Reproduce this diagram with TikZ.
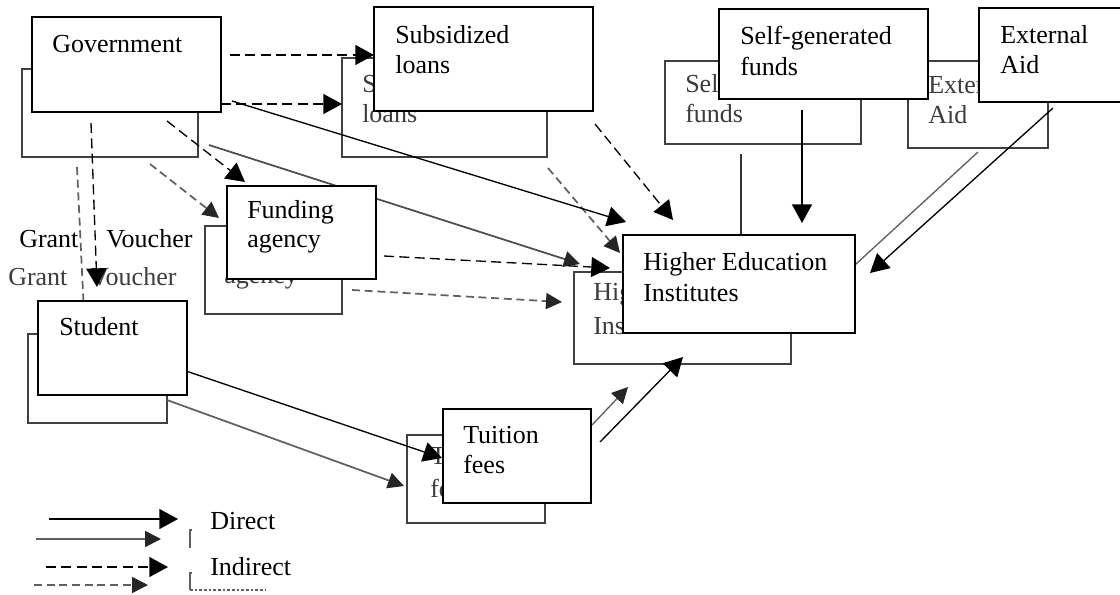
\documentclass[tikz,border=0pt]{standalone}
\usepackage{fontspec}
\setmainfont{Liberation Serif}
\usetikzlibrary{arrows.meta}
\definecolor{bgray}{RGB}{64,64,64}
\definecolor{tgray}{RGB}{60,60,60}
\definecolor{lgray}{RGB}{95,95,95}
\newcommand\dfont{\fontsize{19.5pt}{22pt}\selectfont}
\tikzset{
  fbox/.style={draw=black, line width=1.1pt, fill=white, anchor=north west, inner sep=0pt, outer sep=0pt},
  bbox/.style={draw=bgray, line width=1.5pt, fill=white, anchor=north west, inner sep=0pt, outer sep=0pt},
  ftxt/.style={anchor=base west, inner sep=0pt, font=\dfont},
  btxt/.style={anchor=base west, inner sep=0pt, font=\dfont, text=tgray},
  fsolid/.style={draw=black, line width=1pt, -{Triangle[length=14pt,width=15pt]}},
  fdash/.style={fsolid, dash pattern=on 7.5pt off 4pt},
  bsolid/.style={draw=lgray, line width=1.3pt, -{Triangle[length=12pt,width=12pt,color=black!85]}},
  bdash/.style={bsolid, dash pattern=on 6pt off 3.5pt},
  bmark/.style={draw=lgray, line width=0.8pt}
}
\begin{document}
\begin{tikzpicture}[x=0.75pt, y=-0.75pt]
\useasboundingbox (0,0) rectangle (1120,594);

% ---------- back layer boxes ----------
\node[bbox, minimum width=132pt,    minimum height=66pt]    (gov2)  at (22,69)  {};
\node[bbox, minimum width=153.75pt, minimum height=74.25pt] (subs2) at (342,58) {};
\node[bbox, minimum width=147pt,    minimum height=62.25pt] (self2) at (665,61) {};
\node[bbox, minimum width=105pt,    minimum height=65.25pt] (ext2)  at (908,61) {};
\node[bbox, minimum width=162.75pt, minimum height=69pt]    (hei2)  at (574,272) {};
\node[bbox, minimum width=102.75pt, minimum height=66pt]    (fund2) at (205,226) {};
\node[bbox, minimum width=104.25pt, minimum height=66.75pt] (stud2) at (28,334) {};
\node[bbox, minimum width=103.5pt,  minimum height=66pt]    (tuit2) at (407,435) {};

% ---------- back layer texts (visible parts) ----------
\node[btxt] (subs2a) at (362,92)  {S};
\node[btxt] (subs2b) at (362,122) {loans};
\node[btxt] (self2a) at (685,92)  {Self};
\node[btxt] (self2b) at (685,122) {funds};
\node[btxt] (ext2a)  at (928,93)  {Exter};
\node[btxt] (ext2b)  at (928,123) {Aid};
\node[btxt] (fund2b) at (224,283) {agency};
\node[btxt] (hei2a)  at (593,300) {Hig};
\node[btxt] (hei2b)  at (593,334) {Ins};
\node[btxt] (tuit2a) at (430,464) {T};
\node[btxt] (tuit2b) at (430,497) {fe};
\node[btxt] (grant2) at (8,285)   {Grant};
\node[btxt] (vouch2) at (90,285)  {Voucher};

% ---------- back layer connectors ----------
\coordinate (b1s) at (77,167);   \coordinate (b1e) at (85,334);
\coordinate (b2s) at (150,164);  \coordinate (b2e) at (219,218);
\coordinate (b3s) at (209,145);  \coordinate (b3e) at (580,264);
\coordinate (b4s) at (548,168);  \coordinate (b4e) at (620,253);
\coordinate (b5s) at (352,290);  \coordinate (b5e) at (562,302);
\coordinate (b6s) at (167,400);  \coordinate (b6e) at (404,486);
\coordinate (b7s) at (592,425);  \coordinate (b7e) at (628,387);
\coordinate (b8s) at (741,154);  \coordinate (b8e) at (741,272);
\coordinate (b9s) at (978,152);  \coordinate (b9e) at (795,320);
\draw[bdash] (b1s) -- (b1e);
\draw[bdash] (b2s) -- (b2e);
\draw[bsolid, draw=black!70] (b3s) -- (b3e);
\draw[bdash] (b4s) -- (b4e);
\draw[bdash] (b5s) -- (b5e);
\draw[bsolid] (b6s) -- (b6e);
\draw[bsolid, line width=1pt] (b7s) -- (b7e);
\draw[bsolid, draw=black!80, line width=0.9pt] (b8s) -- (b8e);
\draw[bsolid, line width=1pt] (b9s) -- (b9e);

% ---------- front layer boxes ----------
\node[fbox, minimum width=141.75pt, minimum height=71.25pt] (gov)  at (32,17)  {};
\node[fbox, minimum width=164.25pt, minimum height=78pt]    (subs) at (374,7)  {};
\node[fbox, minimum width=156.75pt, minimum height=67.5pt]  (self) at (719,9)  {};
\node[fbox, minimum width=107pt,    minimum height=70.5pt]  (ext)  at (979,8)  {};
\node[fbox, minimum width=174pt,    minimum height=73.5pt]  (hei)  at (623,235) {};
\node[fbox, minimum width=111.75pt, minimum height=69.75pt] (fund) at (227,186) {};
\node[fbox, minimum width=111.75pt, minimum height=70.5pt]  (stud) at (38,301) {};
\node[fbox, minimum width=111pt,    minimum height=70.5pt]  (tuit) at (443,409) {};

% ---------- front layer texts ----------
\node[ftxt] (gova)  at (52,52)   {Government};
\node[ftxt] (subsa) at (395,43)  {Subsidized};
\node[ftxt] (subsb) at (395,73)  {loans};
\node[ftxt] (selfa) at (740,44)  {Self-generated};
\node[ftxt] (selfb) at (740,75)  {funds};
\node[ftxt] (exta)  at (1000,43) {External};
\node[ftxt] (extb)  at (1000,73) {Aid};
\node[ftxt] (heia)  at (643,270) {Higher Education};
\node[ftxt] (heib)  at (643,301) {Institutes};
\node[ftxt] (funda) at (247,218) {Funding};
\node[ftxt] (fundb) at (247,247) {agency};
\node[ftxt] (studa) at (59,335)  {Student};
\node[ftxt] (tuita) at (463,443) {Tuition};
\node[ftxt] (tuitb) at (463,473) {fees};
\node[ftxt] (grant) at (19,247)  {Grant};
\node[ftxt] (vouch) at (106,247) {Voucher};

% ---------- front layer connectors ----------
\coordinate (f1s) at (230,55);   \coordinate (f1e) at (374,55);
\coordinate (f2s) at (221,104);  \coordinate (f2e) at (342,104);
\coordinate (f3s) at (232,101);  \coordinate (f3e) at (626,222);
\coordinate (f4s) at (167,121);  \coordinate (f4e) at (245,182);
\coordinate (f5s) at (91,123);   \coordinate (f5e) at (97,287);
\coordinate (f6s) at (595,124);  \coordinate (f6e) at (673,220);
\coordinate (f7s) at (384,256);  \coordinate (f7e) at (610,268);
\coordinate (f8s) at (802,110);  \coordinate (f8e) at (802,223);
\coordinate (f9s) at (1053,108); \coordinate (f9e) at (870,273);
\coordinate (f10s) at (186,371); \coordinate (f10e) at (442,458);
\coordinate (f11s) at (600,442); \coordinate (f11e) at (683,357);
\draw[fdash]  (f1s) -- (f1e);
\draw[fdash]  (f2s) -- (f2e);
\draw[fsolid] (f3s) -- (f3e);
\draw[fdash]  (f4s) -- (f4e);
\draw[fdash]  (f5s) -- (f5e);
\draw[fdash]  (f6s) -- (f6e);
\draw[fdash]  (f7s) -- (f7e);
\draw[fsolid] (f8s) -- (f8e);
\draw[fsolid] (f9s) -- (f9e);
\draw[fsolid] (f10s) -- (f10e);
\draw[fsolid] (f11s) -- (f11e);

% ---------- legend ----------
\coordinate (l1s) at (49,519);  \coordinate (l1e) at (178,519);
\coordinate (l2s) at (36,539);  \coordinate (l2e) at (161,539);
\coordinate (l3s) at (46,567);  \coordinate (l3e) at (168,567);
\coordinate (l4s) at (34,585);  \coordinate (l4e) at (148,585);
\draw[fsolid] (l1s) -- (l1e);
\draw[bsolid] (l2s) -- (l2e);
\draw[fdash]  (l3s) -- (l3e);
\draw[bdash]  (l4s) -- (l4e);
\node[ftxt] (direct)   at (210,529) {Direct};
\node[ftxt] (indirect) at (210,575) {Indirect};
\coordinate (m1a) at (192,530); \coordinate (m1b) at (190,530); \coordinate (m1c) at (190,548);
\coordinate (m2a) at (192,573); \coordinate (m2b) at (190,573); \coordinate (m2c) at (190,590); \coordinate (m2d) at (265,590);
\draw[bmark] (m1a) -- (m1b) -- (m1c);
\draw[bmark] (m2a) -- (m2b) -- (m2c);
\draw[bmark, dash pattern=on 2pt off 1.5pt] (m2c) -- (m2d);
\end{tikzpicture}
\end{document}
